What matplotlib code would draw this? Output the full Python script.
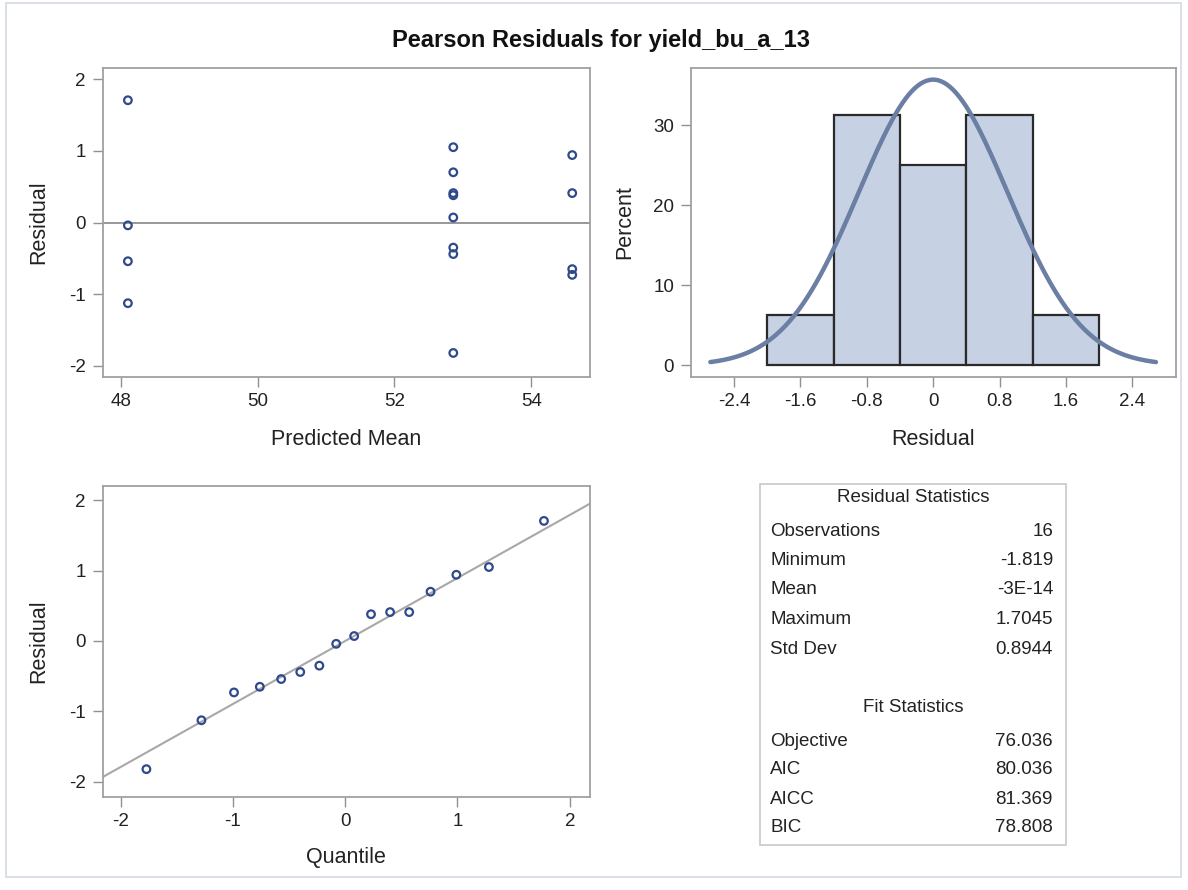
import numpy as np
import matplotlib.pyplot as plt
from matplotlib.patches import Rectangle

plt.rcParams['font.family'] = ['Liberation Sans', 'DejaVu Sans']
plt.rcParams['axes.unicode_minus'] = False

# observations: predicted mean and Pearson residual
pred_mean = [48.1, 48.1, 48.1, 48.1,
             52.86, 52.86, 52.86, 52.86, 52.86, 52.86, 52.86, 52.86,
             54.6, 54.6, 54.6, 54.6]
residual = [1.7045, -0.04, -0.54, -1.125,
            1.05, 0.70, 0.41, 0.38, 0.07, -0.35, -0.44, -1.819,
            0.94, 0.41, -0.65, -0.73]

# normal scores for the 16 sorted residuals
normal_quantile = [-1.77, -1.28, -0.99, -0.76, -0.57, -0.40, -0.23, -0.08,
                   0.08, 0.23, 0.40, 0.57, 0.76, 0.99, 1.28, 1.77]

hist_edges = [-2.0, -1.2, -0.4, 0.4, 1.2, 2.0]
resid_mean = 0.0
resid_std = 0.8944

stat_labels = ['Observations', 'Minimum', 'Mean', 'Maximum', 'Std Dev']
stat_values = ['16', '-1.819', '-3E-14', '1.7045', '0.8944']
fit_labels = ['Objective', 'AIC', 'AICC', 'BIC']
fit_values = ['76.036', '80.036', '81.369', '78.808']

W, H = 1188, 890
fig = plt.figure(figsize=(W / 100, H / 100), dpi=100)

def px(x0, y0, x1, y1):
    return [x0 / W, 1 - y1 / H, (x1 - x0) / W, (y1 - y0) / H]

mark = '#2f4a8c'
frame = '#a0a0a0'

def style(ax):
    for s in ax.spines.values():
        s.set_color(frame)
        s.set_linewidth(1.3)
    ax.tick_params(direction='out', length=7, width=1, color='#909090',
                   labelsize=13.5, labelcolor='#222222', pad=5)
    ax.xaxis.label.set_va('center')
    ax.yaxis.label.set_va('center')

# --- residual vs predicted
ax1 = fig.add_axes(px(102.6, 68.3, 590, 376.7))
ax1.axhline(0, color='#909090', lw=1.3, zorder=1)
ax1.scatter(pred_mean, residual, s=30, facecolors='none', edgecolors=mark,
            linewidths=1.6, zorder=3)
ax1.set_xlim(47.73, 54.86)
ax1.set_ylim(-2.15, 2.15)
ax1.set_xticks([48, 50, 52, 54])
ax1.set_yticks([-2, -1, 0, 1, 2])
ax1.set_xlabel('Predicted Mean', fontsize=15.5, color='#222222')
ax1.set_ylabel('Residual', fontsize=15.5, color='#222222')
style(ax1)
ax1.xaxis.set_label_coords(0.5, -0.205)
ax1.yaxis.set_label_coords(-0.13, 0.5)

# --- histogram with normal density
ax2 = fig.add_axes(px(690.7, 68.3, 1175.6, 376.7))
n = len(residual)
ax2.hist(residual, bins=hist_edges, weights=[100 / n] * n,
         color='#c6d1e3', edgecolor='#2a2a2a', linewidth=1.6, zorder=2)
xs = np.linspace(resid_mean - 3 * resid_std, resid_mean + 3 * resid_std, 300)
bw = hist_edges[1] - hist_edges[0]
dens = 100 * bw * np.exp(-0.5 * ((xs - resid_mean) / resid_std) ** 2) / (resid_std * np.sqrt(2 * np.pi))
ax2.plot(xs, dens, color='#6b7ea3', lw=3.2, zorder=3, solid_capstyle='round')
ax2.set_xlim(-2.92, 2.92)
ax2.set_ylim(-1.43, 37.1)
hticks = [-2.4, -1.6, -0.8, 0, 0.8, 1.6, 2.4]
ax2.set_xticks(hticks)
ax2.set_xticklabels(['-2.4', '-1.6', '-0.8', '0', '0.8', '1.6', '2.4'])
ax2.set_yticks([0, 10, 20, 30])
ax2.set_xlabel('Residual', fontsize=15.5, color='#222222')
ax2.set_ylabel('Percent', fontsize=15.5, color='#222222')
style(ax2)
ax2.xaxis.set_label_coords(0.5, -0.205)
ax2.yaxis.set_label_coords(-0.135, 0.5)

# --- normal QQ plot
ax3 = fig.add_axes(px(102.6, 486, 590, 796.7))
ax3.axline((0, resid_mean), slope=resid_std, color='#a8a8a8', lw=1.5, zorder=1)
ax3.scatter(normal_quantile, np.sort(residual), s=30, facecolors='none',
            edgecolors=mark, linewidths=1.6, zorder=3)
ax3.set_xlim(-2.16, 2.18)
ax3.set_ylim(-2.21, 2.2)
ax3.set_xticks([-2, -1, 0, 1, 2])
ax3.set_yticks([-2, -1, 0, 1, 2])
ax3.set_xlabel('Quantile', fontsize=15.5, color='#222222')
ax3.set_ylabel('Residual', fontsize=15.5, color='#222222')
style(ax3)
ax3.xaxis.set_label_coords(0.5, -0.197)
ax3.yaxis.set_label_coords(-0.13, 0.5)

# --- statistics table
fig.patches.append(Rectangle((760 / W, 1 - 845 / H), 306 / W, (845 - 484.3) / H,
                             transform=fig.transFigure, fill=False,
                             edgecolor='#c8c8c8', lw=1.2))
tfs = 13.5
fig.text(913 / W, 1 - 498 / H, 'Residual Statistics', ha='center', va='center',
         fontsize=tfs, color='#222222')
for lab, val, y in zip(stat_labels, stat_values, [531, 560.5, 590, 620, 650]):
    fig.text(770 / W, 1 - y / H, lab, ha='left', va='center', fontsize=tfs, color='#222222')
    fig.text(1053 / W, 1 - y / H, val, ha='right', va='center', fontsize=tfs, color='#222222')
fig.text(913 / W, 1 - 707 / H, 'Fit Statistics', ha='center', va='center',
         fontsize=tfs, color='#222222')
for lab, val, y in zip(fit_labels, fit_values, [741, 770, 799, 828]):
    fig.text(770 / W, 1 - y / H, lab, ha='left', va='center', fontsize=tfs, color='#222222')
    fig.text(1053 / W, 1 - y / H, val, ha='right', va='center', fontsize=tfs, color='#222222')

fig.text(601 / W, 1 - 40 / H, 'Pearson Residuals for yield_bu_a_13', ha='center',
         va='center', fontsize=17, fontweight='bold', color='#111111')

# outer frame
fig.patches.append(Rectangle((5.5 / W, 1 - 877 / H), (1181 - 5.5) / W, (877 - 2.5) / H,
                             transform=fig.transFigure, fill=False,
                             edgecolor='#d4dae3', lw=1.2))

fig.savefig('out.png', dpi=100)
